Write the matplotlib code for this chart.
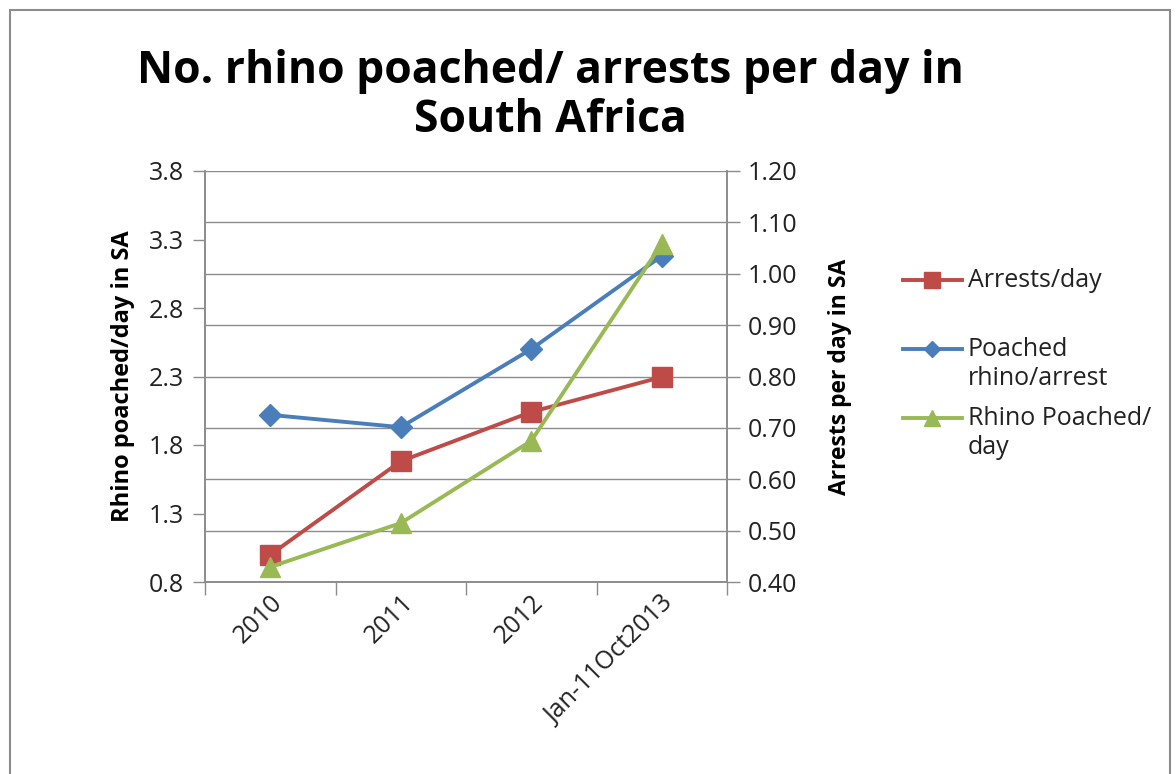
import matplotlib
matplotlib.use("Agg")
import matplotlib.pyplot as plt
from matplotlib.lines import Line2D
from matplotlib.patches import Rectangle

categories = ["2010", "2011", "2012", "Jan-11Oct2013"]
arrests_per_day = [0.453, 0.635, 0.731, 0.799]
poached_per_arrest = [2.02, 1.93, 2.50, 3.18]
rhino_poached_per_day = [0.91, 1.23, 1.83, 3.27]

left_ticks = [0.8, 1.3, 1.8, 2.3, 2.8, 3.3, 3.8]
right_ticks = [0.40, 0.50, 0.60, 0.70, 0.80, 0.90, 1.00, 1.10, 1.20]

RED = "#BE4B48"
BLUE = "#4A7EBB"
GREEN = "#98B954"
GRID = "#8c8c8c"
TXT = "#222222"
FONT = ["Open Sans", "DejaVu Sans"]
plt.rcParams["font.family"] = FONT

W, H = 1176, 774
fig = plt.figure(figsize=(W / 100, H / 100), dpi=100)
fig.patch.set_facecolor("white")

ax = fig.add_axes([205 / W, 1 - 582 / H, (727 - 205) / W, (582 - 171) / H])
ax2 = ax.twinx()
ax.set_zorder(ax2.get_zorder() + 1)
ax.patch.set_visible(False)

x = list(range(len(categories)))

# right axis: arrests/day, gridlines
ax2.set_ylim(0.40, 1.20)
ax2.set_yticks(right_ticks)
ax2.set_yticklabels([f"{v:.2f}" for v in right_ticks])
ax2.yaxis.grid(True, color=GRID, linewidth=1.0)
ax2.set_axisbelow(True)

# left axis
ax.set_ylim(0.8, 3.8)
ax.set_yticks(left_ticks)
ax.set_yticklabels([f"{v:.1f}" for v in left_ticks])
ax.set_xlim(-0.5, len(categories) - 0.5)

ax.plot(x, poached_per_arrest, color=BLUE, lw=2.8, marker="D", ms=11,
        markeredgecolor=BLUE, zorder=3)
ax.plot(x, arrests_per_day, color=RED, lw=2.8, marker="s", ms=14,
        markeredgecolor=RED, zorder=3, transform=ax2.transData)
ax.plot(x, rhino_poached_per_day, color=GREEN, lw=2.8, marker="^", ms=15,
        markeredgecolor=GREEN, zorder=4)

ax.set_xticks(x)
ax.set_xticklabels(categories, rotation=45, ha="right", rotation_mode="anchor",
                   fontsize=18, color=TXT)
ax.tick_params(axis="x", length=0, pad=6)
ax.set_xticks([i - 0.5 for i in range(len(categories) + 1)], minor=True)
ax.tick_params(axis="x", which="minor", length=9, color=GRID, width=1)

ax.tick_params(axis="y", length=9, color=GRID, width=1, labelsize=18,
               labelcolor=TXT, pad=6)
ax2.tick_params(axis="y", length=9, color=GRID, width=1, labelsize=18,
                labelcolor=TXT, pad=6)

for a in (ax, ax2):
    a.spines["top"].set_visible(False)
    for s in ("left", "right", "bottom"):
        a.spines[s].set_color(GRID)
        a.spines[s].set_linewidth(1.2)

ax.set_ylabel("Rhino poached/day in SA", fontsize=17, fontweight="bold",
              labelpad=10)
ax2.set_ylabel("Arrests per day in SA", fontsize=16.5, fontweight="bold",
               labelpad=22)

fig.text(550 / W, 1 - 96 / H, "No. rhino poached/ arrests per day in\nSouth Africa",
         ha="center", va="center", fontsize=32, fontweight="bold",
         linespacing=1.12, color="black")

# legend (manual, handle aligned with first label line)
legend_items = [
    (RED, "s", 11, "Arrests/day", 280),
    (BLUE, "D", 8, "Poached\nrhino/arrest", 349),
    (GREEN, "^", 11, "Rhino Poached/\nday", 418),
]
for color, mk, ms, label, ypx in legend_items:
    yf = 1 - ypx / H
    fig.add_artist(Line2D([903 / W, 962 / W], [yf, yf], color=color, lw=2.8,
                          transform=fig.transFigure))
    fig.add_artist(Line2D([932 / W], [yf], color=color, marker=mk, ms=ms,
                          markeredgecolor=color, transform=fig.transFigure))
    fig.text(968 / W, yf + 12 / H, label, ha="left", va="top", fontsize=18,
             linespacing=1.2, color=TXT)

# outer chart border
fig.add_artist(Rectangle((10 / W, -0.05), (1170 - 10) / W, 1.05 - 10 / H,
                         fill=False, edgecolor="#8c8c8c", lw=1.5,
                         transform=fig.transFigure))

fig.savefig("out.png", dpi=100)
